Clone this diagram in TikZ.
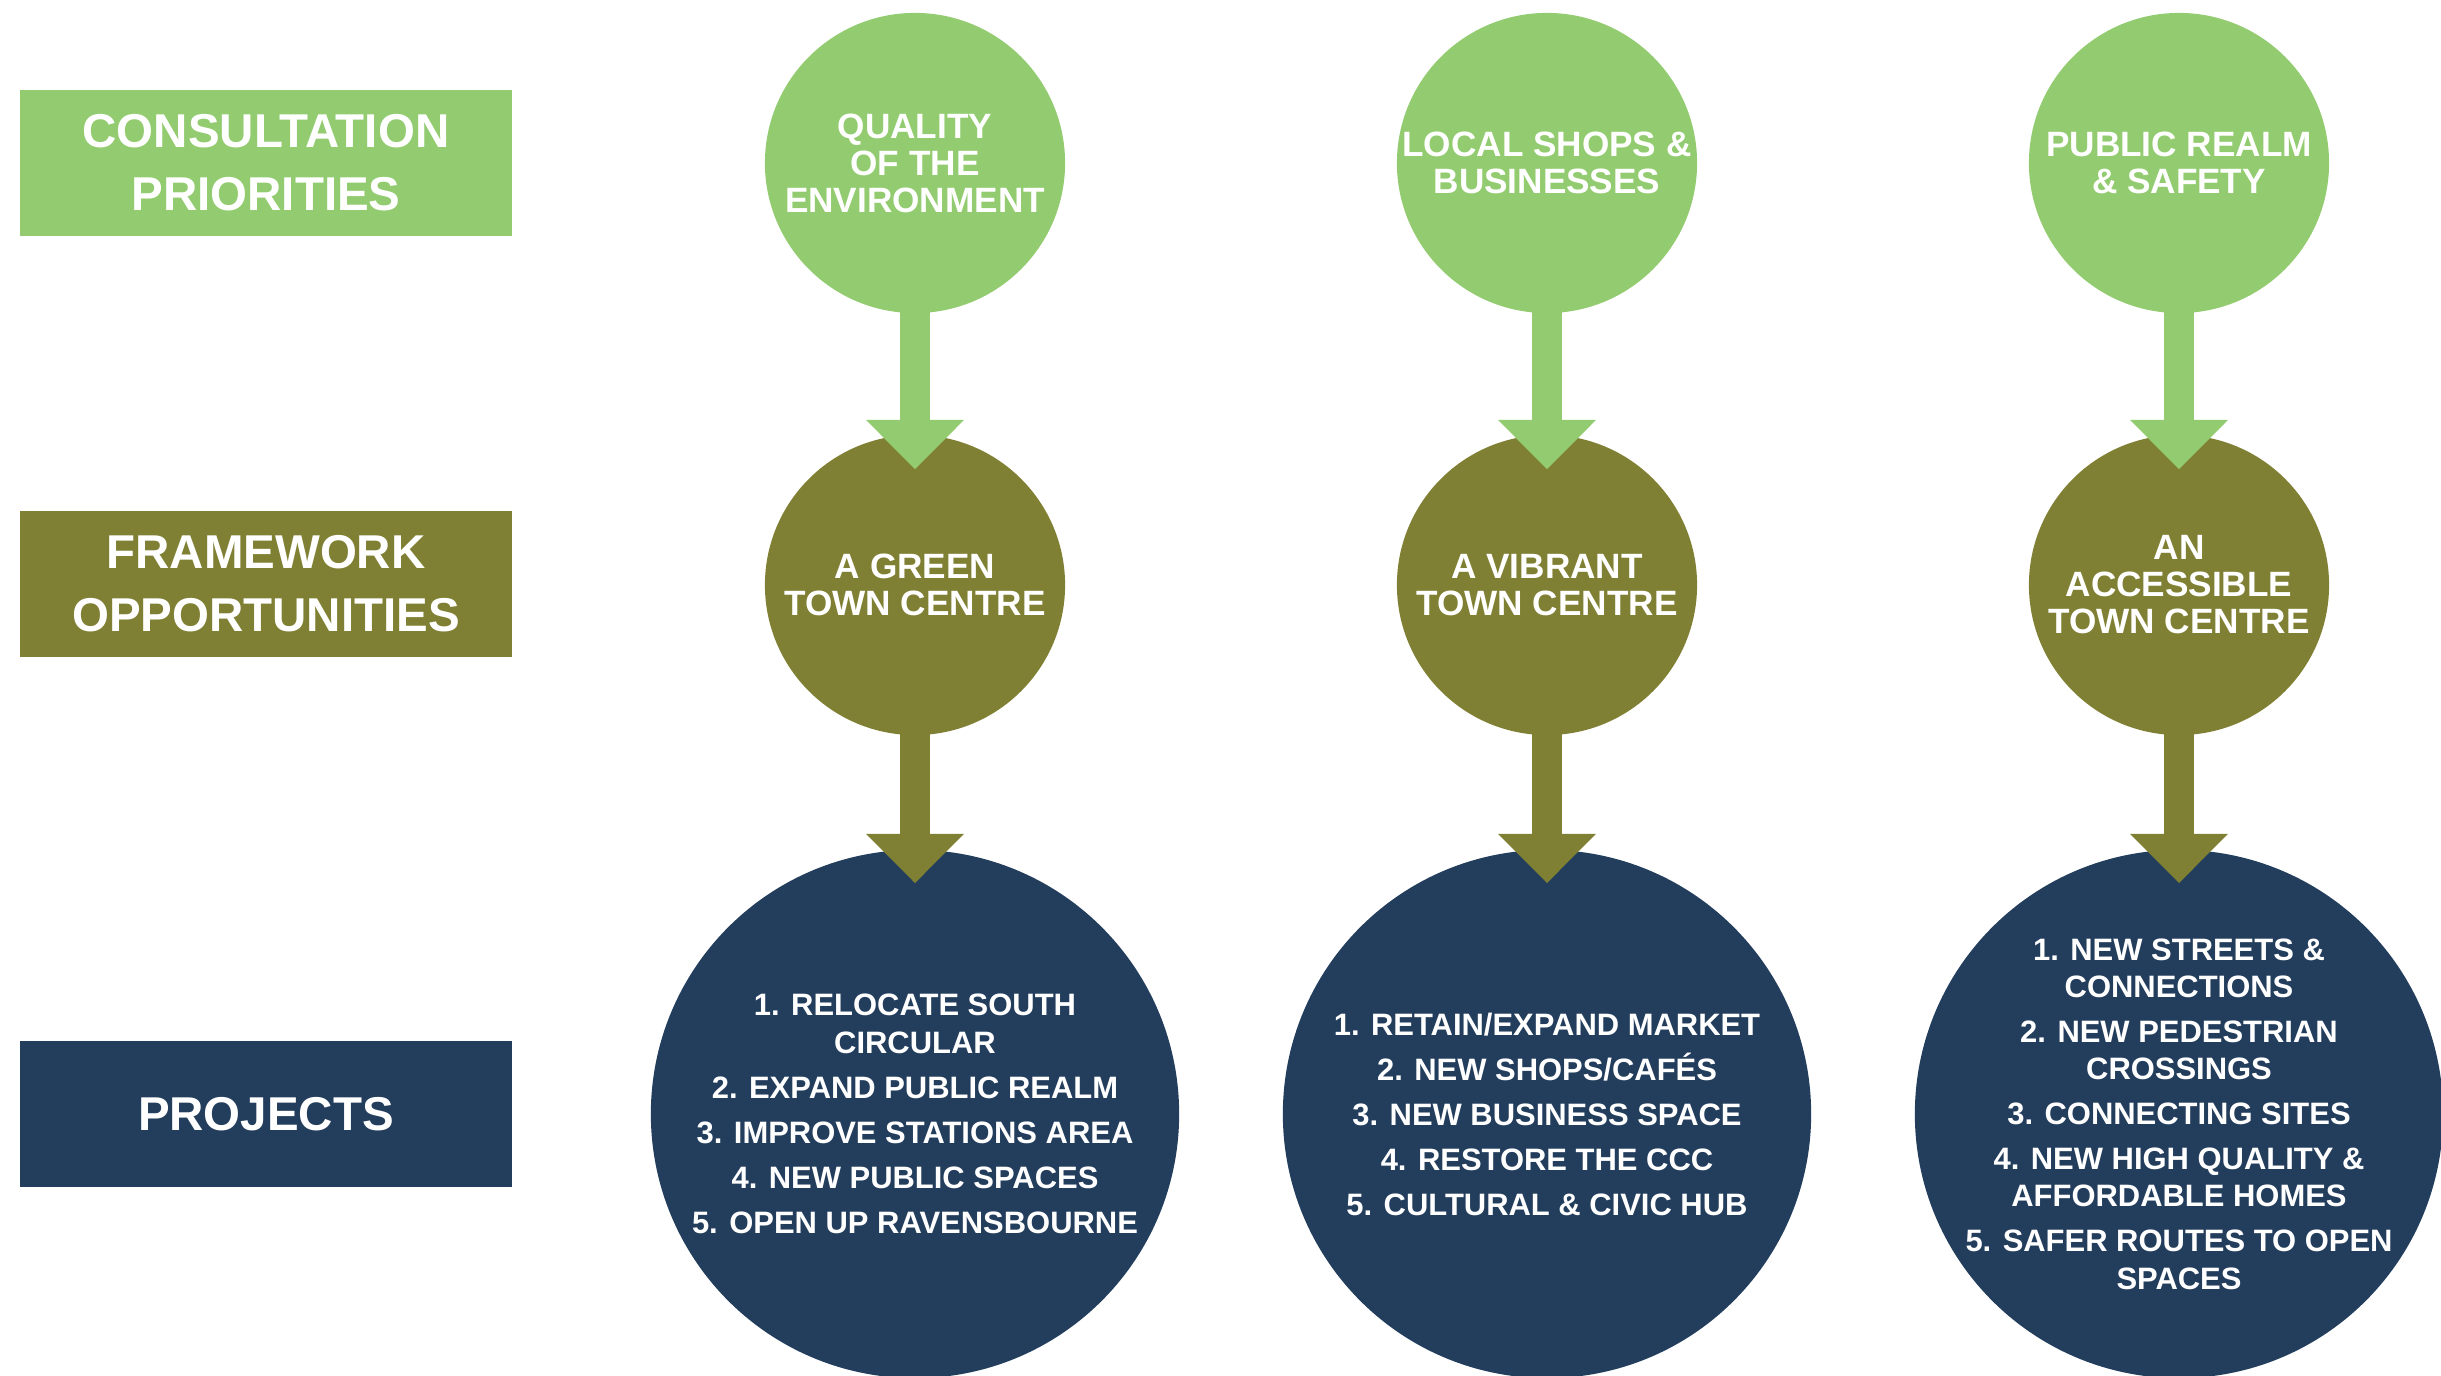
\documentclass[tikz,border=0pt]{standalone}
\usepackage{fontspec}
\setmainfont{Liberation Sans}
\usepackage{tikz}
\usetikzlibrary{arrows.meta}
\definecolor{prioritygreen}{RGB}{147,204,112}
\definecolor{frameolive}{RGB}{128,128,52}
\definecolor{projectnavy}{RGB}{35,61,92}
\tikzset{rowbox/.style = {rectangle, inner sep = 0, minimum width = 4.92cm,
                          minimum height = 1.45cm, text = white, align = center,
                          font = \bfseries\fontsize{13.5}{18}\selectfont}}
\tikzset{bubble/.style = {circle, inner sep = 0, minimum size = 3cm, text = white,
                          align = center, font = \bfseries\fontsize{10}{10.5}\selectfont}}
\tikzset{bigbubble/.style = {circle, inner ysep = 0, inner xsep = -0.3cm, minimum size = 5.28cm,
                             text = white, align = center,
                             font = \bfseries\fontsize{8.8}{10.6}\selectfont}}
\tikzset{pointer/.style = {line width = 8.8pt, shorten <= -0.02cm,
                           -{Triangle[width = 27pt, length = 14pt]}}}

\begin{document}
\begin{tikzpicture}[x=0.01cm, y=-0.01cm]
    \useasboundingbox (0,0) rectangle (2441,1376);

    % row headings
    \node[rowbox, fill=prioritygreen] (consult) at (266,163) {CONSULTATION\\PRIORITIES};
    \node[rowbox, fill=frameolive] (frame) at (266,584) {FRAMEWORK\\OPPORTUNITIES};
    \node[rowbox, fill=projectnavy] (proj) at (266,1114) {PROJECTS};

    % consultation priorities
    \node[bubble, fill=prioritygreen] (env) at (915,163) {QUALITY\\OF THE\\ENVIRONMENT};
    \node[bubble, fill=prioritygreen] (shops) at (1547,163) {LOCAL SHOPS \&\\BUSINESSES};
    \node[bubble, fill=prioritygreen] (safety) at (2179,163) {PUBLIC REALM\\\& SAFETY};

    % framework opportunities
    \node[bubble, fill=frameolive] (green) at (915,585) {A GREEN\\TOWN CENTRE};
    \node[bubble, fill=frameolive] (vibrant) at (1547,585) {A VIBRANT\\TOWN CENTRE};
    \node[bubble, fill=frameolive] (access) at (2179,585) {AN\\ACCESSIBLE\\TOWN CENTRE};

    % projects
    \node[bigbubble, fill=projectnavy] (pgreen) at (915,1114)
        {1. RELOCATE SOUTH\\CIRCULAR\\[2.2pt]2. EXPAND PUBLIC REALM\\[2.2pt]3. IMPROVE STATIONS AREA\\[2.2pt]4. NEW PUBLIC SPACES\\[2.2pt]5. OPEN UP RAVENSBOURNE};
    \node[bigbubble, fill=projectnavy] (pvibrant) at (1547,1114)
        {1. RETAIN/EXPAND MARKET\\[2.2pt]2. NEW SHOPS/CAFÉS\\[2.2pt]3. NEW BUSINESS SPACE\\[2.2pt]4. RESTORE THE CCC\\[2.2pt]5. CULTURAL \& CIVIC HUB};
    \node[bigbubble, fill=projectnavy] (paccess) at (2179,1114)
        {1. NEW STREETS \&\\CONNECTIONS\\[2.2pt]2. NEW PEDESTRIAN\\CROSSINGS\\[2.2pt]3. CONNECTING SITES\\[2.2pt]4. NEW HIGH QUALITY \&\\AFFORDABLE HOMES\\[2.2pt]5. SAFER ROUTES TO OPEN\\SPACES};

    % arrows
    \draw[pointer, prioritygreen, shorten >= -0.35cm] (env.south) -- (green.north);
    \draw[pointer, prioritygreen, shorten >= -0.35cm] (shops.south) -- (vibrant.north);
    \draw[pointer, prioritygreen, shorten >= -0.35cm] (safety.south) -- (access.north);
    \draw[pointer, frameolive, shorten >= -0.34cm] (green.south) -- (pgreen.north);
    \draw[pointer, frameolive, shorten >= -0.34cm] (vibrant.south) -- (pvibrant.north);
    \draw[pointer, frameolive, shorten >= -0.34cm] (access.south) -- (paccess.north);
\end{tikzpicture}
\end{document}
